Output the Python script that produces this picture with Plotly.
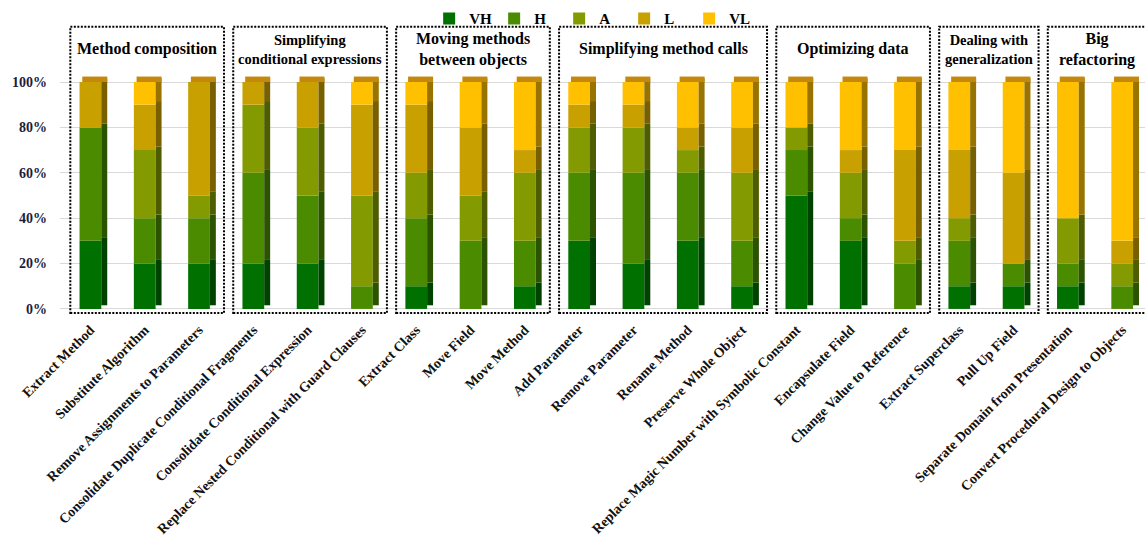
import plotly.graph_objects as go
import numpy as np

categories = [
    "Extract Method", "Substitute Algorithm", "Remove Assignments to Parameters",
    "Consolidate Duplicate Conditional Fragments", "Consolidate Conditional Expression",
    "Replace Nested Conditional with Guard Clauses",
    "Extract Class", "Move Field", "Move Method",
    "Add Parameter", "Remove Parameter", "Rename Method", "Preserve Whole Object",
    "Replace Magic Number with Symbolic Constant", "Encapsulate Field", "Change Value to Reference",
    "Extract Superclass", "Pull Up Field",
    "Separate Domain from Presentation", "Convert Procedural Design to Objects",
]

group_names = ["Method composition", "Simplifying<br>conditional expressions",
               "Moving methods<br>between objects", "Simplifying method calls",
               "Optimizing data", "Dealing with<br>generalization", "Big<br>refactoring"]
group_sizes = [3, 3, 3, 4, 3, 2, 2]

VH = [30, 20, 20, 20, 20, 0, 10, 0, 10, 30, 20, 30, 10, 50, 30, 0, 10, 10, 10, 0]
H  = [50, 20, 20, 40, 30, 10, 30, 30, 20, 30, 40, 30, 20, 20, 10, 20, 20, 10, 10, 10]
A  = [0, 30, 10, 30, 30, 40, 20, 20, 30, 20, 20, 10, 30, 10, 20, 10, 10, 0, 20, 10]
L  = [20, 20, 50, 10, 20, 40, 30, 30, 10, 10, 10, 10, 20, 0, 10, 40, 30, 40, 0, 10]
VL = [0, 10, 0, 0, 0, 10, 10, 20, 30, 10, 10, 20, 20, 20, 30, 30, 30, 40, 60, 70]

series_names = ["VH", "H", "A", "L", "VL"]
series_values = [VH, H, A, L, VL]
colors = ["#007000", "#4a8b00", "#839b00", "#c8a000", "#ffc000"]


def darken(hexcol, f):
    h = hexcol.lstrip("#")
    r, g, b = (int(h[i:i + 2], 16) for i in (0, 2, 4))
    return "#%02x%02x%02x" % (int(r * f), int(g * f), int(b * f))


SERIF = "Liberation Serif, Times New Roman, serif"
FRONT_W = 0.40
FRONT_OFF = -0.20
SIDE_W = 0.11
LIFT = 1.6

x = np.arange(len(categories))
fig = go.Figure()
base = np.zeros(len(categories))
for name, vals, col in zip(series_names, series_values, colors):
    v = np.array(vals, dtype=float)
    fig.add_bar(x=x, y=v, base=base.copy(), width=FRONT_W, offset=FRONT_OFF,
                marker=dict(color=col, line=dict(width=0)), name="<b>%s</b>" % name)
    fig.add_bar(x=x, y=v, base=base.copy() + LIFT, width=SIDE_W, offset=FRONT_OFF + FRONT_W,
                marker=dict(color=darken(col, 0.6), line=dict(width=0)),
                showlegend=False, hoverinfo="skip")
    base += v

# top faces of the 3D columns
fig.add_bar(x=x, y=[2.4] * len(x), base=base, width=FRONT_W + SIDE_W - 0.05,
            offset=FRONT_OFF + 0.05, marker=dict(color="#c4880c", line=dict(width=0)),
            showlegend=False, hoverinfo="skip")

# group boxes and titles
shapes, annotations = [], []
start = 0
title_sizes = [16, 14.5, 16, 16, 16, 14.5, 16]
for gname, n, fs in zip(group_names, group_sizes, title_sizes):
    x0 = start - 0.37
    x1 = start + n - 1 + 0.46
    shapes.append(dict(type="rect", xref="x", yref="y", x0=x0, x1=x1, y0=-1.8, y1=124.3,
                       line=dict(color="black", width=2, dash="2px,1.5px"),
                       fillcolor="rgba(0,0,0,0)", layer="above"))
    annotations.append(dict(x=(x0 + x1) / 2, y=114.5, xref="x", yref="y", text="<b>%s</b>" % gname,
                            showarrow=False, font=dict(family=SERIF, size=fs, color="black"),
                            xanchor="center", yanchor="middle"))
    start += n

fig.update_layout(
    width=1147, height=545,
    margin=dict(l=60, r=2, t=23, b=227),
    barmode="overlay",
    plot_bgcolor="white", paper_bgcolor="white",
    shapes=shapes, annotations=annotations,
    legend=dict(orientation="h", x=0.49, xanchor="center", y=1.07, yanchor="top",
                font=dict(family=SERIF, size=15, color="black"),
                itemwidth=30, entrywidth=20, entrywidthmode="pixels",
                traceorder="normal", bgcolor="rgba(0,0,0,0)"),
    font=dict(family=SERIF),
)
fig.update_xaxes(range=[-0.56, 19.42], tickmode="array", tickvals=list(x),
                 ticktext=["<b>%s</b>" % c for c in categories], tickangle=-45,
                 tickfont=dict(family=SERIF, size=14, color="#111111"),
                 showgrid=False, zeroline=False, showline=False, ticks="", automargin=False)
fig.update_yaxes(range=[-4, 126], tickmode="array", tickvals=[0, 20, 40, 60, 80, 100],
                 ticktext=["<b>%d%%</b>" % v for v in [0, 20, 40, 60, 80, 100]],
                 tickfont=dict(family=SERIF, size=14, color="#1c1c3c"),
                 ticklabelstandoff=12,
                 showgrid=True, gridcolor="#d9d9d9", gridwidth=1, zeroline=False,
                 showline=False, ticks="", automargin=False)

fig.write_html("out.html")
